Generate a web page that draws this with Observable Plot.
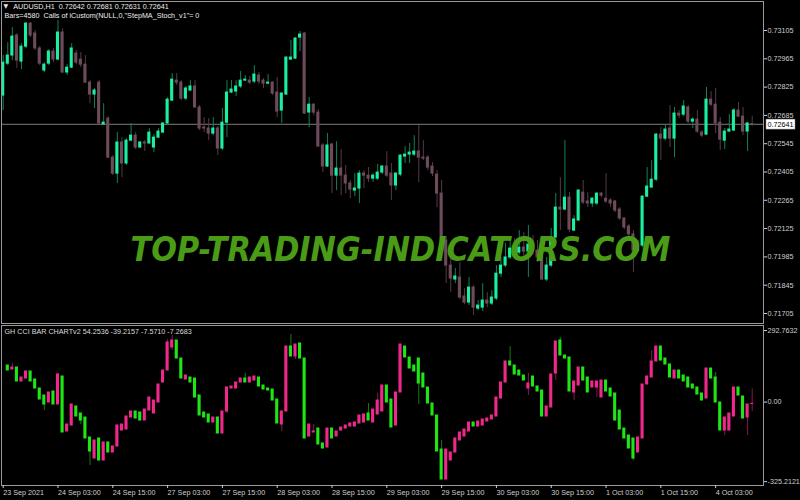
<!DOCTYPE html>
<html><head><meta charset="utf-8">
<script src="https://cdn.jsdelivr.net/npm/d3@7"></script>
<script src="https://cdn.jsdelivr.net/npm/@observablehq/plot@0.6"></script>
<style>
html,body{margin:0;padding:0;background:#000;}
#wrap{width:800px;height:500px;overflow:hidden;background:#000;}
#wrap svg{display:block;}
</style></head>
<body><div id="wrap"><div id="top"></div><div id="bottom"></div></div>
<script>
// ---------- AUDUSD H1 candles (bar 0 = 23 Sep 2021 15:00) ----------
const open = [0.72783,0.72941,0.72981,0.73080,0.72951,0.73025,0.73139,0.73090,0.73016,0.72907,
0.72941,0.73001,0.72961,0.73095,0.72897,0.72921,0.72991,0.72961,0.72936,0.72847,
0.72788,0.72847,0.72640,0.72669,0.72476,0.72397,0.72551,0.72447,0.72560,0.72585,
0.72526,0.72551,0.72546,0.72526,0.72575,0.72600,0.72645,0.72758,0.72857,0.72847,
0.72768,0.72808,0.72828,0.72724,0.72625,0.72620,0.72595,0.72620,0.72521,0.72649,
0.72798,0.72803,0.72828,0.72857,0.72857,0.72852,0.72882,0.72857,0.72842,0.72847,
0.72798,0.72709,0.72788,0.72961,0.72966,0.73070,0.73090,0.72699,0.72738,0.72699,
0.72536,0.72432,0.72541,0.72387,0.72422,0.72387,0.72348,0.72313,0.72323,0.72397,
0.72387,0.72372,0.72372,0.72402,0.72432,0.72397,0.72338,0.72392,0.72481,0.72491,
0.72491,0.72506,0.72476,0.72476,0.72432,0.72392,0.72298,0.72066,0.71942,0.71873,
0.71883,0.71789,0.71759,0.71833,0.71729,0.71734,0.71769,0.71754,0.71779,0.71902,
0.71942,0.71982,0.72026,0.72006,0.72031,0.72011,0.72046,0.72016,0.71982,0.71873,
0.71942,0.72081,0.72229,0.72219,0.72278,0.72115,0.72165,0.72303,0.72259,0.72249,
0.72249,0.72298,0.72273,0.72264,0.72259,0.72219,0.72175,0.72135,0.72096,0.72016,
0.72041,0.72283,0.72328,0.72367,0.72590,0.72570,0.72620,0.72570,0.72694,0.72689,
0.72724,0.72654,0.72664,0.72600,0.72590,0.72763,0.72738,0.72649,0.72560,0.72605,
0.72610,0.72709,0.72679,0.72605,0.72642];
const high = [0.72981,0.73045,0.73119,0.73090,0.73040,0.73144,0.73144,0.73105,0.73025,0.72946,
0.73011,0.73016,0.73154,0.73114,0.72936,0.73040,0.73006,0.72996,0.72981,0.72857,
0.72818,0.72857,0.72743,0.72679,0.72486,0.72600,0.72575,0.72570,0.72645,0.72600,
0.72555,0.72560,0.72620,0.72590,0.72620,0.72649,0.72773,0.72892,0.72892,0.72857,
0.72828,0.72857,0.72857,0.72734,0.72674,0.72669,0.72674,0.72630,0.72719,0.72857,
0.72857,0.72857,0.72902,0.72882,0.72877,0.72931,0.72897,0.72867,0.72887,0.72852,
0.72872,0.72798,0.72976,0.73055,0.73070,0.73100,0.73095,0.72773,0.72743,0.72714,
0.72546,0.72595,0.72546,0.72555,0.72516,0.72437,0.72363,0.72397,0.72412,0.72412,
0.72427,0.72397,0.72442,0.72437,0.72506,0.72447,0.72402,0.72491,0.72531,0.72546,
0.72585,0.72635,0.72560,0.72486,0.72452,0.72412,0.72363,0.72086,0.71993,0.71927,
0.71957,0.71828,0.71883,0.71843,0.71769,0.71853,0.71808,0.71818,0.71942,0.71982,
0.72051,0.72066,0.72076,0.72115,0.72105,0.72140,0.72091,0.72066,0.72026,0.71982,
0.72125,0.72298,0.72377,0.72560,0.72303,0.72189,0.72318,0.72363,0.72303,0.72278,
0.72303,0.72303,0.72397,0.72273,0.72264,0.72229,0.72179,0.72145,0.72115,0.72066,
0.72288,0.72427,0.72461,0.72595,0.72625,0.72635,0.72734,0.72724,0.72709,0.72758,
0.72734,0.72674,0.72709,0.72610,0.72823,0.72803,0.72818,0.72674,0.72620,0.72689,
0.72719,0.72748,0.72724,0.72650,0.72681];
const low = [0.72709,0.72931,0.72956,0.72917,0.72912,0.73016,0.73070,0.73006,0.72931,0.72897,
0.72931,0.72946,0.72956,0.72892,0.72882,0.72917,0.72936,0.72921,0.72842,0.72743,
0.72719,0.72640,0.72635,0.72471,0.72387,0.72348,0.72377,0.72437,0.72555,0.72516,
0.72521,0.72506,0.72541,0.72501,0.72570,0.72595,0.72640,0.72753,0.72833,0.72758,
0.72758,0.72803,0.72719,0.72610,0.72600,0.72560,0.72585,0.72486,0.72511,0.72575,
0.72793,0.72778,0.72818,0.72852,0.72837,0.72842,0.72837,0.72818,0.72837,0.72783,
0.72674,0.72645,0.72783,0.72956,0.72961,0.73001,0.72689,0.72625,0.72684,0.72526,
0.72402,0.72427,0.72298,0.72313,0.72288,0.72298,0.72273,0.72283,0.72249,0.72323,
0.72353,0.72353,0.72363,0.72392,0.72377,0.72264,0.72313,0.72382,0.72447,0.72447,
0.72481,0.72353,0.72461,0.72412,0.72382,0.72229,0.72056,0.71853,0.71808,0.71853,
0.71774,0.71749,0.71744,0.71695,0.71719,0.71714,0.71734,0.71744,0.71769,0.71883,
0.71932,0.71972,0.71987,0.71993,0.71987,0.71883,0.71993,0.71957,0.71868,0.71863,
0.71932,0.72076,0.72115,0.72214,0.72105,0.72110,0.72160,0.72244,0.72229,0.72229,
0.72239,0.72278,0.72249,0.72229,0.72204,0.72165,0.72120,0.72086,0.71907,0.72006,
0.72031,0.72278,0.72323,0.72358,0.72461,0.72560,0.72526,0.72476,0.72669,0.72679,
0.72645,0.72620,0.72595,0.72575,0.72585,0.72729,0.72595,0.72511,0.72516,0.72600,
0.72605,0.72674,0.72585,0.72506,0.72631];
const close = [0.72946,0.72981,0.73075,0.72956,0.73025,0.73139,0.73080,0.73016,0.72941,0.72936,
0.73001,0.72961,0.73095,0.72897,0.72921,0.73016,0.72946,0.72936,0.72847,0.72788,
0.72808,0.72645,0.72649,0.72476,0.72397,0.72551,0.72447,0.72560,0.72585,0.72526,
0.72551,0.72546,0.72600,0.72575,0.72605,0.72645,0.72763,0.72862,0.72847,0.72768,
0.72818,0.72828,0.72724,0.72620,0.72620,0.72595,0.72620,0.72521,0.72649,0.72798,
0.72813,0.72828,0.72857,0.72862,0.72847,0.72887,0.72852,0.72842,0.72847,0.72793,
0.72704,0.72793,0.72971,0.72971,0.73065,0.73085,0.72694,0.72738,0.72699,0.72531,
0.72432,0.72536,0.72387,0.72422,0.72387,0.72348,0.72318,0.72323,0.72397,0.72387,
0.72372,0.72387,0.72402,0.72432,0.72387,0.72338,0.72397,0.72486,0.72491,0.72501,
0.72506,0.72476,0.72471,0.72427,0.72397,0.72298,0.72066,0.71942,0.71878,0.71888,
0.71784,0.71759,0.71833,0.71734,0.71744,0.71769,0.71754,0.71784,0.71902,0.71942,
0.71982,0.72026,0.72006,0.72031,0.72011,0.72046,0.72016,0.71982,0.71873,0.71942,
0.72081,0.72229,0.72219,0.72278,0.72120,0.72170,0.72313,0.72254,0.72249,0.72273,
0.72298,0.72288,0.72259,0.72249,0.72214,0.72175,0.72130,0.72096,0.72016,0.72041,
0.72283,0.72333,0.72367,0.72590,0.72570,0.72615,0.72570,0.72694,0.72684,0.72729,
0.72654,0.72664,0.72605,0.72585,0.72763,0.72738,0.72645,0.72565,0.72605,0.72615,
0.72709,0.72679,0.72605,0.72645,0.72641];
const lastPrice = 0.72641;
const priceTicks = [0.73105,0.72965,0.72825,0.72685,0.72545,0.72405,0.72265,0.72125,0.71985,0.71845,0.71705];

// ---------- GH CCI BAR CHARTv2 ----------
const cciOpen = [null,149.7,133.3,141.5,84.3,96.5,125.2,92.4,55.6,27,
-1.6,43.4,-9.8,104.7,-120.2,-95.7,-18,-46.6,-63,-144.8,
-230.7,-148.9,-238.9,-165.2,-206.1,-181.6,-116.2,-112.1,-63,-38.4,
-42.5,-75.3,-34.4,-46.6,-1.6,80.2,129.2,223.3,251.9,178.3,
92.4,100.6,96.5,27,-42.5,-50.7,-83.4,-63,-128.4,-38.4,
55.6,55.6,80.2,96.5,80.2,88.3,100.6,67.9,55.6,51.5,
10.6,-91.6,-38.4,227.4,186.5,239.7,178.3,-140.7,-124.3,-108,
-169.3,-185.7,-108,-140.7,-116.2,-108,-99.8,-99.8,-87.5,-83.4,
-46.6,-83.4,-50.7,-38.4,67.9,10.6,-95.7,39.3,227.4,182.4,
149.7,178.3,117,59.7,-5.7,-54.8,-193.9,-316.6,-238.9,-206.1,
-157.1,-140.7,-120.2,-83.4,-99.8,-95.7,-79.3,-71.2,-58.9,14.7,
80.2,166.1,149.7,129.2,108.8,55.6,104.7,63.8,47.4,-58.9,
-22.1,117,251.9,190.6,182.4,39.3,67.9,141.5,100.6,59.7,
59.7,18.8,88.3,55.6,35.2,-34.4,-108,-136.6,-148.9,-206.1,
-148.9,72,100.6,166.1,227.4,178.3,153.8,96.5,129.2,108.8,
100.6,72,59.7,35.2,14.7,137.4,100.6,-1.6,-116.2,-116.2,
-58.9,59.7,22.9,-63,-7.5710];
const cciClose = [null,129.2,141.5,84.3,100.6,125.2,84.3,55.6,10.6,-9.8,
39.3,-9.8,112.9,-124.3,-91.6,-9.8,-58.9,-75.3,-148.9,-202,
-157.1,-238.9,-165.2,-206.1,-181.6,-95.7,-91.6,-58.9,-38.4,-67.1,
-75.3,-30.3,18.8,6.5,72,129.2,243.8,251.9,178.3,96.5,
108.8,80.2,18.8,-54.8,-63,-83.4,-63,-128.4,-38.4,59.7,
63.8,80.2,96.5,80.2,100.6,104.7,63.8,51.5,47.4,6.5,
-87.5,-38.4,227.4,186.5,235.6,178.3,-148.9,-91.6,-120.2,-173.4,
-189.8,-108,-148.9,-120.2,-103.9,-95.7,-87.5,-83.4,-54.8,-50.7,
-75.3,-30.3,6.5,67.9,-1.6,-103.9,39.3,235.6,182.4,137.4,
125.2,76.1,59.7,-5.7,-54.8,-202,-316.6,-193.9,-206.1,-148.9,
-124.3,-112.1,-83.4,-99.8,-79.3,-71.2,-67.1,-54.8,18.8,80.2,
166.1,149.7,112.9,108.8,88.3,76.1,63.8,43.4,-58.9,-18,
112.9,247.8,190.6,178.3,43.4,84.3,141.5,88.3,39.3,84.3,
84.3,88.3,43.4,22.9,-75.3,-112.1,-148.9,-189.8,-230.7,-144.8,
72,104.7,166.1,227.4,170.1,153.8,100.6,129.2,96.5,84.3,
59.7,55.6,31.1,6.5,137.4,96.5,-1.6,-116.2,-63,-46.6,
59.7,27,-67.1,-9.8,-7.2683];
// wick extremes that reach beyond the body (bar index -> value)
const cciHighExt = {2:157.9,12:117,36:256,37:272.4,53:117,63:276.5,68:-91.6,80:-5.7,82:35.2,96:-157.1,
  111:227.4,115:117,122:264.2,142:211,156:121.1,164:54.2536};
const cciLowExt = {9:-34.4,17:-91.6,19:-259.3,37:211,49:-46.6,61:-120.2,64:174.2,91:-9.8,115:27,121:88.3,
  125:6.5,130:18.8,138:-238.9,158:-136.6,163:-136.6,164:-39.2157};
const cciTicks = [292.7632, 0, -325.2121];
const cciTickLabels = ["292.7632", "0.00", "-325.2121"];

// ---------- time axis ----------
const dateTickBars = [0,12,24,36,48,60,72,84,96,108,120,132,144,156];
const dateTickLabels = ["23 Sep 2021","24 Sep 03:00","24 Sep 15:00","27 Sep 03:00","27 Sep 15:00","28 Sep 03:00",
  "28 Sep 15:00","29 Sep 03:00","29 Sep 15:00","30 Sep 03:00","30 Sep 15:00","1 Oct 03:00","1 Oct 15:00","4 Oct 03:00"];

const headerLine1 = "AUDUSD,H1  0.72642 0.72681 0.72631 0.72641";
const headerLine2 = "Bars=4580  Calls of iCustom(NULL,0,\"StepMA_Stoch_v1\"= 0";
const cciHeader = "GH CCI BAR CHARTv2 54.2536 -39.2157 -7.5710 -7.2683";
const watermark = "TOP-TRADING-INDICATORS.COM";

// ---------- styles ----------
const bullBody = "#1af0a0", bullWick = "#13805a", bearBody = "#6e4b5b", bearWick = "#553a48";
const cciUp = "#f0288c", cciUpWick = "#86194f", cciDn = "#1ee614", cciDnWick = "#157c12";
const frameColor = "#9a9a9a", labelColor = "#cfcfcf";
const font = "'Liberation Sans', Arial, sans-serif";
const xDomain = [-0.372, 166.48];

const candles = open.map((o, i) => ({i, open: o, high: high[i], low: low[i], close: close[i], up: close[i] >= o}));
const cci = cciOpen.map((o, i) => ({i, open: o, close: cciClose[i]}))
  .filter(d => d.open != null)
  .map(d => ({...d, up: d.close > d.open,
    hi: cciHighExt[d.i] ?? Math.max(d.open, d.close),
    lo: cciLowExt[d.i] ?? Math.min(d.open, d.close)}));
const dateLabel = new Map(dateTickBars.map((b, k) => [b, dateTickLabels[k]]));
const cciLabel = new Map(cciTicks.map((v, k) => [v, cciTickLabels[k]]));

const topChart = Plot.plot({
  width: 800, height: 324,
  marginLeft: 1, marginRight: 37, marginTop: 1, marginBottom: 1,
  style: {background: "#000", fontFamily: font, overflow: "visible"},
  x: {domain: xDomain, axis: null},
  y: {domain: [0.7165547, 0.7324847], axis: null},
  marks: [
    Plot.ruleY([lastPrice], {stroke: "#7c7c7c"}),
    Plot.ruleX(candles, {x: "i", y1: "low", y2: "high", stroke: d => d.up ? bullWick : bearWick, strokeWidth: 1}),
    Plot.rect(candles, {x1: d => d.i - 0.34, x2: d => d.i + 0.34, y1: "open", y2: "close",
      fill: d => d.up ? bullBody : bearBody, insetTop: -0.5, insetBottom: -0.5}),
    Plot.text([watermark], {frameAnchor: "top-left", dx: 129, dy: 248.5, textAnchor: "start", lineAnchor: "middle",
      fill: "#4a9c16", fontSize: 33, fontWeight: "bold", fontStyle: "italic", fontFamily: "'DejaVu Sans', sans-serif", className: "wm"}),
    Plot.frame({stroke: frameColor}),
    Plot.axisY(priceTicks, {anchor: "right", tickSize: 3, tickPadding: 1, tickFormat: d => d.toFixed(5),
      color: labelColor, fontSize: 7.2, label: null}),
    Plot.text([lastPrice], {y: d => d, text: d => d.toFixed(5), frameAnchor: "right", dx: 4, textAnchor: "start",
      lineAnchor: "middle", fill: "#000", fontSize: 7.2, className: "bid"}),
    Plot.text(["\u25BC"], {frameAnchor: "top-left", dx: 2, dy: 5, textAnchor: "start", lineAnchor: "middle",
      fill: "#e8e8e8", fontSize: 6, fontFamily: "'DejaVu Sans', sans-serif"}),
    Plot.text([headerLine1], {frameAnchor: "top-left", dx: 11.7, dy: 5.5, textAnchor: "start", lineAnchor: "middle",
      fill: "#ececec", fontSize: 7.2}),
    Plot.text([headerLine2], {frameAnchor: "top-left", dx: 3, dy: 14, textAnchor: "start", lineAnchor: "middle",
      fill: "#ececec", fontSize: 7.2})
  ]
});

const bottomChart = Plot.plot({
  width: 800, height: 176,
  marginLeft: 1, marginRight: 37, marginTop: 1, marginBottom: 15,
  style: {background: "#000", fontFamily: font, overflow: "visible"},
  x: {domain: xDomain, axis: null},
  y: {domain: [-341.1, 313.3], axis: null},
  marks: [
    Plot.ruleX(cci, {x: "i", y1: "lo", y2: "hi", stroke: d => d.up ? cciUpWick : cciDnWick, strokeWidth: 1}),
    Plot.rect(cci, {x1: d => d.i - 0.34, x2: d => d.i + 0.34, y1: "open", y2: "close",
      fill: d => d.up ? cciUp : cciDn, insetTop: -0.5, insetBottom: -0.5}),
    Plot.frame({stroke: frameColor}),
    Plot.axisY(cciTicks, {anchor: "right", tickSize: 3, tickPadding: 1, tickFormat: d => cciLabel.get(d),
      color: labelColor, fontSize: 7.2, label: null}),
    Plot.axisX(dateTickBars, {anchor: "bottom", tickSize: 3, tickPadding: 1, tickFormat: d => dateLabel.get(d),
      textAnchor: "start", color: labelColor, fontSize: 7.2, label: null}),
    Plot.text([cciHeader], {frameAnchor: "top-left", dx: 3, dy: 6.5, textAnchor: "start", lineAnchor: "middle",
      fill: "#dcdcdc", fontSize: 7.2})
  ]
});

document.getElementById("top").appendChild(topChart);
document.getElementById("bottom").appendChild(bottomChart);

// watermark stretched to its width in the reference
const wm = topChart.querySelector("g.wm text");
if (wm) { wm.setAttribute("textLength", 540); wm.setAttribute("lengthAdjust", "spacingAndGlyphs"); }
// white box behind the current-price label
const bid = topChart.querySelector("g.bid text");
if (bid) {
  const bb = bid.getBBox();
  const r = document.createElementNS("http://www.w3.org/2000/svg", "rect");
  r.setAttribute("x", bb.x - 1.5); r.setAttribute("y", bb.y - 0.5);
  r.setAttribute("width", bb.width + 3); r.setAttribute("height", bb.height + 1);
  r.setAttribute("fill", "#ffffff"); r.setAttribute("stroke", "#8a8a8a"); r.setAttribute("stroke-width", 0.5);
  const tr = bid.getAttribute("transform"); if (tr) r.setAttribute("transform", tr);
  bid.parentNode.insertBefore(r, bid);
}
</script>
</body></html>
